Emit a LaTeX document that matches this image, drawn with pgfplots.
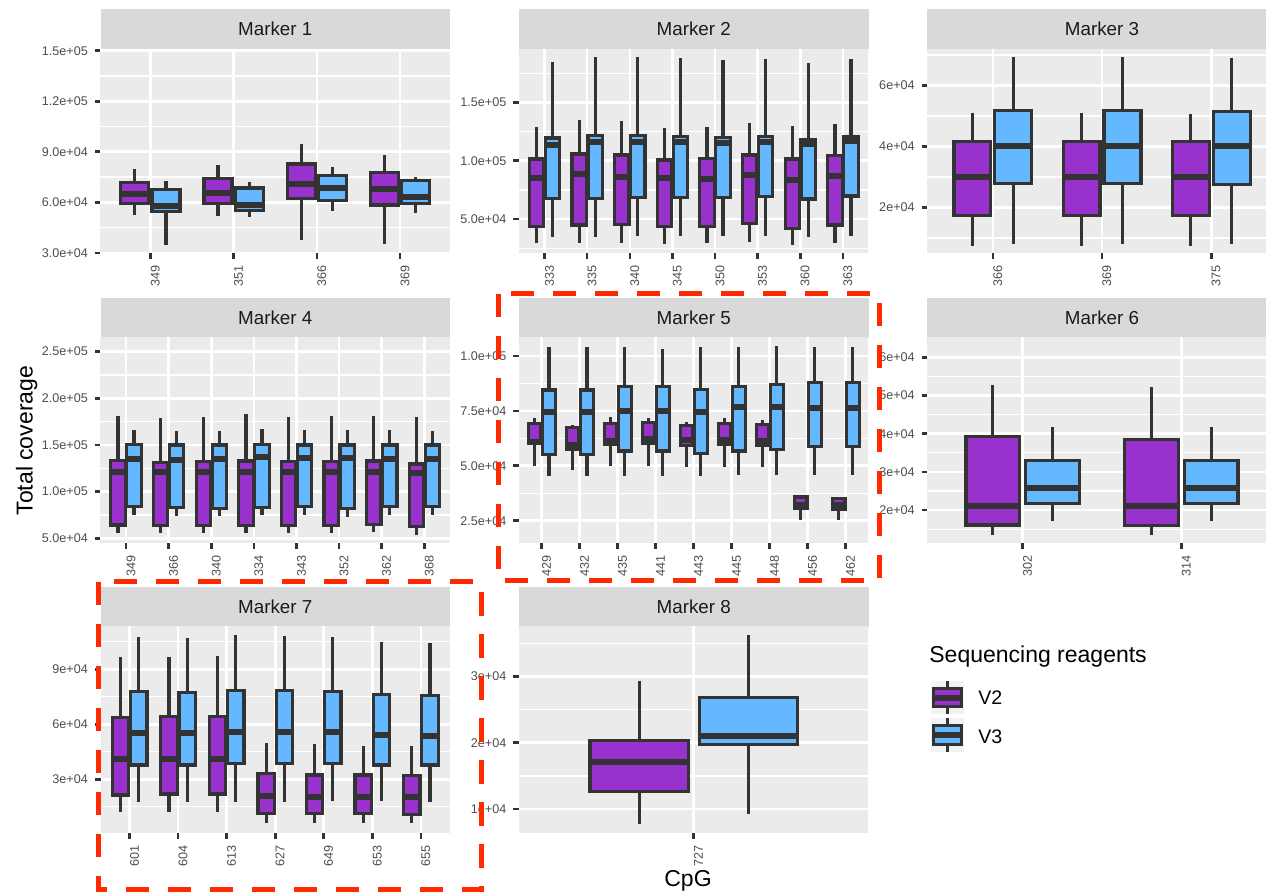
\documentclass[border=0pt]{standalone}
\usepackage{fontspec}
\setmainfont{Liberation Sans}
\usepackage{pgfplots}
\pgfplotsset{compat=1.18}
\usepgfplotslibrary{statistics}

\definecolor{dark}{HTML}{333333}
\definecolor{bgpanel}{HTML}{EBEBEB}
\definecolor{stripc}{HTML}{D9D9D9}
\definecolor{ticktext}{HTML}{4D4D4D}
\definecolor{striptext}{HTML}{1A1A1A}
\definecolor{vtwo}{HTML}{9932CC}
\definecolor{vthree}{HTML}{63B8FF}
\definecolor{keybg}{HTML}{F2F2F2}
\definecolor{redann}{HTML}{FF2A00}

\pgfplotsset{
  panel/.style={
    scale only axis, anchor=north west, width=174.75pt,
    xmin=0.4, scaled ticks=false,
    axis background/.style={fill=bgpanel},
    axis line style={draw=none},
    tick align=outside, tick pos=left,
    major tick length=2.8pt, minor tick length=0pt,
    tick style={draw=dark, line width=1.3pt},
    xmajorgrids, ymajorgrids, yminorgrids,
    major grid style={draw=white, line width=1.3pt},
    minor grid style={draw=white, line width=0.65pt},
    ticklabel style={font=\fontsize{6.3}{7.5}\selectfont, color=ticktext},
    xticklabel style={rotate=90, anchor=north east, inner xsep=3.2pt, inner ysep=0pt},
    boxplot/draw direction=y,
  },
  bp/.style={
    boxplot/draw direction=y,
    boxplot/box extend=0.3375,
    boxplot/whisker extend=0,
    boxplot/every whisker/.style={draw=dark, line width=1.6pt},
    boxplot/every median/.style={draw=dark, line width=3pt},
    boxplot/every box/.style={draw=dark, line width=1.6pt, fill=#1},
  },
}
\newcommand\bx[7]{\addplot[bp=#1, boxplot prepared={draw position=#2, lower whisker=#3, lower quartile=#4, median=#5, upper quartile=#6, upper whisker=#7}] coordinates {};}

\begin{document}
\begin{tikzpicture}
\path[use as bounding box] (0pt,0pt) rectangle (633pt,-446pt);

% facet strips
\begin{scope}[x=0.5pt,y=-0.5pt]
\foreach \sx/\sy/\lab in {100.5/9/1, 519/9/2, 927.3/9/3, 100.5/298/4, 519/298/5, 927.3/298/6, 100.5/587/7, 519/587/8}{
  \fill[stripc] (\sx,\sy) rectangle ++(349.5,40);
  \node[text=striptext, font=\fontsize{9.4}{11}\selectfont] at (\sx+174.75,\sy+20) {Marker \lab};
}
\end{scope}

% Marker 1
\begin{axis}[panel, at={(50.25pt,-24.5pt)}, height=102pt, xmax=4.6, ymin=29900, ymax=151000,
  xtick={1,2,3,4}, xticklabels={349,351,366,369},
  ytick={30000,60000,90000,120000,150000}, yticklabels={3.0e+04,6.0e+04,9.0e+04,1.2e+05,1.5e+05},
  minor ytick={45000,75000,105000,135000}]
\bx{vtwo}{0.8125}{52700}{59400}{65100}{71800}{79700}
\bx{vthree}{1.1875}{34900}{54700}{58000}{67500}{72400}
\bx{vtwo}{1.8125}{52100}{59200}{65500}{74000}{82300}
\bx{vthree}{2.1875}{51100}{55000}{58600}{68500}{71800}
\bx{vtwo}{2.8125}{37900}{62200}{70800}{82700}{94500}
\bx{vthree}{3.1875}{54700}{61000}{68500}{76000}{80900}
\bx{vtwo}{3.8125}{35300}{58400}{68100}{77600}{88200}
\bx{vthree}{4.1875}{53700}{59400}{63100}{72800}{74800}
\end{axis}

% Marker 2
\begin{axis}[panel, at={(259.5pt,-24.5pt)}, height=102pt, xmax=8.6, ymin=20900, ymax=195700,
  xtick={1,...,8}, xticklabels={333,335,340,345,350,353,360,363},
  ytick={50000,100000,150000}, yticklabels={5.0e+04,1.0e+05,1.5e+05},
  minor ytick={25000,75000,125000,175000}]
\bx{vtwo}{0.8125}{29100}{43400}{84900}{101400}{128600}
\bx{vthree}{1.1875}{34300}{67700}{113700}{119400}{184300}
\bx{vtwo}{1.8125}{29100}{44900}{88600}{105700}{134900}
\bx{vthree}{2.1875}{34900}{67700}{116300}{121400}{188600}
\bx{vtwo}{2.8125}{29100}{45400}{86300}{104900}{134000}
\bx{vthree}{3.1875}{35400}{68600}{116300}{121400}{188600}
\bx{vtwo}{3.8125}{28300}{43400}{84900}{100600}{127700}
\bx{vthree}{4.1875}{35400}{68600}{116300}{120600}{187700}
\bx{vtwo}{4.8125}{29100}{43400}{84300}{102000}{129100}
\bx{vthree}{5.1875}{35400}{68600}{115400}{120000}{186300}
\bx{vtwo}{5.8125}{30000}{46300}{87700}{104900}{132600}
\bx{vthree}{6.1875}{35400}{69100}{116300}{120600}{187100}
\bx{vtwo}{6.8125}{27700}{42000}{83400}{101400}{130000}
\bx{vthree}{7.1875}{34300}{67100}{114000}{118300}{184000}
\bx{vtwo}{7.8125}{29100}{44900}{87100}{104300}{131400}
\bx{vthree}{8.1875}{35400}{69700}{117100}{120600}{187100}
\end{axis}

% Marker 3
\begin{axis}[panel, at={(463.65pt,-24.5pt)}, height=102pt, xmax=3.6, ymin=5130, ymax=72000,
  xtick={1,2,3}, xticklabels={366,369,375},
  ytick={20000,40000,60000}, yticklabels={2e+04,4e+04,6e+04},
  minor ytick={10000,30000,50000,70000}]
\bx{vtwo}{0.8125}{7500}{17300}{30200}{41600}{50900}
\bx{vthree}{1.1875}{8000}{27800}{40300}{51800}{69300}
\bx{vtwo}{1.8125}{7500}{17300}{30200}{41600}{50900}
\bx{vthree}{2.1875}{8000}{28000}{40300}{51800}{69300}
\bx{vtwo}{2.8125}{7500}{17300}{30200}{41600}{50700}
\bx{vthree}{3.1875}{8000}{27600}{40200}{51500}{69000}
\end{axis}

% Marker 4
\begin{axis}[panel, at={(50.25pt,-168.5pt)}, height=103pt, xmax=8.6, ymin=45000, ymax=265700,
  xtick={1,...,8}, xticklabels={349,366,340,334,343,352,362,368},
  ytick={50000,100000,150000,200000,250000}, yticklabels={5.0e+04,1.0e+05,1.5e+05,2.0e+05,2.5e+05},
  minor ytick={75000,125000,175000,225000}]
\bx{vtwo}{0.8125}{55400}{64300}{121400}{133200}{181400}
\bx{vthree}{1.1875}{75000}{83900}{135000}{150700}{166100}
\bx{vtwo}{1.8125}{55400}{63600}{120700}{131400}{179300}
\bx{vthree}{2.1875}{74300}{83200}{134000}{150000}{165000}
\bx{vtwo}{2.8125}{55400}{63600}{120700}{132100}{180400}
\bx{vthree}{3.1875}{73900}{82200}{135000}{150000}{165000}
\bx{vtwo}{3.8125}{55400}{63600}{121400}{132900}{182900}
\bx{vthree}{4.1875}{75000}{83200}{137500}{150700}{167100}
\bx{vtwo}{4.8125}{55400}{63600}{120700}{132100}{180400}
\bx{vthree}{5.1875}{75000}{83900}{135700}{150000}{166100}
\bx{vtwo}{5.8125}{55400}{63600}{121400}{132100}{181400}
\bx{vthree}{6.1875}{73200}{82200}{135700}{150000}{166100}
\bx{vtwo}{6.8125}{56400}{65000}{120700}{132900}{181400}
\bx{vthree}{7.1875}{75000}{83900}{135000}{150000}{166100}
\bx{vtwo}{7.8125}{53600}{62500}{119700}{129700}{179600}
\bx{vthree}{8.1875}{75000}{83900}{135000}{150000}{165000}
\end{axis}

% Marker 5
\begin{axis}[panel, at={(259.5pt,-168.5pt)}, height=103pt, xmax=9.6, ymin=14840, ymax=108650,
  xtick={1,...,9}, xticklabels={429,432,435,441,443,445,448,456,462},
  ytick={25000,50000,75000,100000}, yticklabels={2.5e+04,5.0e+04,7.5e+04,1.0e+05},
  minor ytick={37500,62500,87500}]
\bx{vtwo}{0.8125}{50100}{60200}{61000}{69300}{71600}
\bx{vthree}{1.1875}{45400}{55200}{74300}{84500}{103900}
\bx{vtwo}{1.8125}{48100}{57500}{59500}{67400}{68600}
\bx{vthree}{2.1875}{45400}{55200}{74300}{84500}{103900}
\bx{vtwo}{2.8125}{50100}{59900}{61400}{69300}{72100}
\bx{vthree}{3.1875}{45400}{56700}{75100}{86000}{103900}
\bx{vtwo}{3.8125}{50100}{60200}{62200}{69800}{71600}
\bx{vthree}{4.1875}{45400}{56700}{75100}{86000}{103000}
\bx{vtwo}{4.8125}{49300}{59200}{61700}{68300}{70100}
\bx{vthree}{5.1875}{45400}{55700}{74300}{84800}{103900}
\bx{vtwo}{5.8125}{49600}{59900}{61700}{69300}{71600}
\bx{vthree}{6.1875}{45800}{56700}{76600}{86000}{104300}
\bx{vtwo}{6.8125}{49600}{59500}{61400}{68900}{70900}
\bx{vthree}{7.1875}{45800}{57500}{76600}{87100}{104600}
\bx{vtwo}{7.8125}{25300}{30600}{32100}{35800}{36200}
\bx{vthree}{8.1875}{45800}{58700}{76200}{87900}{104300}
\bx{vtwo}{8.8125}{25300}{30200}{32100}{35200}{35900}
\bx{vthree}{9.1875}{45800}{58700}{76200}{87900}{103900}
\end{axis}

% Marker 6
\begin{axis}[panel, at={(463.65pt,-168.5pt)}, height=103pt, xmax=2.6, ymin=11400, ymax=65300,
  xtick={1,2}, xticklabels={302,314},
  ytick={20000,30000,40000,50000,60000}, yticklabels={2e+04,3e+04,4e+04,5e+04,6e+04},
  minor ytick={15000,25000,35000,45000,55000}]
\bx{vtwo}{0.8125}{13500}{16100}{21100}{39200}{52800}
\bx{vthree}{1.1875}{17200}{21800}{25900}{32900}{41700}
\bx{vtwo}{1.8125}{13500}{15900}{21100}{38400}{52100}
\bx{vthree}{2.1875}{17200}{21800}{25900}{32900}{41700}
\end{axis}

% Marker 7
\begin{axis}[panel, at={(50.25pt,-313pt)}, height=103.5pt, xmax=7.6, ymin=740, ymax=113600,
  xtick={1,...,7}, xticklabels={601,604,613,627,649,653,655},
  ytick={30000,60000,90000}, yticklabels={3e+04,6e+04,9e+04},
  minor ytick={15000,45000,75000,105000}]
\bx{vtwo}{0.8125}{12000}{21500}{41100}{63600}{96900}
\bx{vthree}{1.1875}{17500}{37800}{55100}{77800}{107500}
\bx{vtwo}{1.8125}{12000}{22000}{41100}{64200}{96900}
\bx{vthree}{2.1875}{17500}{37800}{55100}{77500}{106900}
\bx{vtwo}{2.8125}{12000}{22000}{41100}{64200}{97500}
\bx{vthree}{3.1875}{17500}{38700}{55600}{78400}{108700}
\bx{vtwo}{3.8125}{6400}{11500}{20900}{33300}{50000}
\bx{vthree}{4.1875}{17500}{38700}{55600}{78400}{108200}
\bx{vtwo}{4.8125}{6400}{11500}{20200}{32400}{49100}
\bx{vthree}{5.1875}{18200}{38700}{55600}{77800}{107500}
\bx{vtwo}{5.8125}{6400}{11500}{20200}{32400}{48400}
\bx{vthree}{6.1875}{18200}{37800}{54200}{76400}{104700}
\bx{vtwo}{6.8125}{6000}{10900}{20600}{32000}{48400}
\bx{vthree}{7.1875}{17800}{37800}{53800}{75600}{104200}
\end{axis}

% Marker 8
\begin{axis}[panel, at={(259.5pt,-313pt)}, height=103.5pt, xmax=1.6, ymin=6360, ymax=37660,
  xtick={1}, xticklabels={727},
  ytick={10000,20000,30000}, yticklabels={1e+04,2e+04,3e+04},
  minor ytick={15000,25000,35000}]
\bx{vtwo}{0.8125}{7700}{12600}{17100}{20300}{29300}
\bx{vthree}{1.1875}{9300}{19700}{21100}{26800}{36300}
\end{axis}

\begin{scope}[x=0.5pt,y=-0.5pt]
% axis titles
\node[rotate=90, anchor=base, font=\fontsize{11.5}{13}\selectfont] at (32.7,440.7) {Total coverage};
\node[anchor=base, font=\fontsize{11.5}{13}\selectfont] at (688,886.7) {CpG};
% legend
\node[anchor=base west, font=\fontsize{11.5}{13}\selectfont, inner sep=0pt] at (929,663) {Sequencing reagents};
\fill[keybg] (930.7,680.7) rectangle (964.3,714.3);
\draw[dark, line width=1.6pt] (947.5,680.7) -- (947.5,714.3);
\filldraw[fill=vtwo, draw=dark, line width=1.6pt] (933.3,688.8) rectangle (961.7,706.8);
\draw[dark, line width=3pt] (933.3,697.8) -- (961.7,697.8);
\node[anchor=base west, font=\fontsize{9.8}{12}\selectfont, inner sep=0pt] at (978,705) {V2};
\fill[keybg] (930.7,718.3) rectangle (964.3,752.3);
\draw[dark, line width=1.6pt] (947.5,718.3) -- (947.5,752.3);
\filldraw[fill=vthree, draw=dark, line width=1.6pt] (933.3,725.8) rectangle (961.7,744.8);
\draw[dark, line width=3pt] (933.3,735.3) -- (961.7,735.3);
\node[anchor=base west, font=\fontsize{9.8}{12}\selectfont, inner sep=0pt] at (978,743.3) {V3};
% red dashed annotation boxes
\draw[redann, line width=2.5pt, dash pattern=on 11.7pt off 9.3pt] (498,293.7) rectangle (879.7,581);
\draw[redann, line width=2.5pt, dash pattern=on 11.7pt off 9.3pt] (98,582) rectangle (481.7,890);
\end{scope}
\end{tikzpicture}
\end{document}
